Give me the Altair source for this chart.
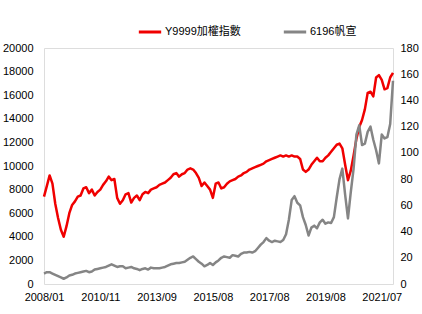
import altair as alt
import pandas as pd

# trading-day index (sampled), x tick labels every 100 index units
idx = list(range(0, 625, 5))
x_labels = ["2008/01", "2010/11", "2013/09", "2015/08", "2017/08", "2019/08", "2021/07"]

red_name = "Y9999加權指數"
gray_name = "6196帆宣"

red_vals = [
    7400, 8300, 9200, 8500, 6800, 5600, 4600, 4000, 4900, 6000,
    6700, 7000, 7400, 7500, 8100, 8200, 7700, 8000, 7500, 7800,
    8000, 8400, 8700, 9100, 8800, 8900, 7300, 6800, 7100, 7600,
    7700, 6900, 7300, 7500, 7100, 7600, 7800, 7700, 8000, 8100,
    8200, 8400, 8500, 8600, 8800, 9000, 9300, 9400, 9100, 9300,
    9400, 9700, 9800, 9700, 9400, 9000, 8300, 8600, 8300, 8000,
    7300, 8500, 8600, 8100, 8200, 8500, 8700, 8800, 8900, 9100,
    9200, 9400, 9500, 9700, 9800, 9900, 10000, 10100, 10200, 10400,
    10500, 10600, 10700, 10800, 10900, 10800, 10900, 10800, 10900, 10800,
    10800, 10600, 9700, 9500, 9700, 10100, 10400, 10700, 10400, 10400,
    10700, 10900, 11200, 11500, 11800, 11900, 11500, 10100, 8800, 9600,
    10900, 12300, 13300, 13900, 14800, 16200, 16300, 15900, 17500, 17700,
    17300, 16500, 16600, 17500, 17900,
]

gray_vals = [
    8, 9, 9, 8, 7, 6, 5, 4, 5, 6.5,
    7, 8, 8.5, 9, 9.5, 10, 9, 9.5, 11, 11.5,
    12, 12.5, 13, 14, 15, 14, 13, 13.5, 13.5, 12,
    12.5, 13, 12, 11.5, 10.5, 11.5, 12, 11, 12.5, 12,
    12, 12, 12.5, 13, 14, 15, 15.5, 16, 16, 16.5,
    17, 18.5, 20, 21, 19, 17, 15.5, 13.5, 14.5, 16,
    14.5, 16.5, 18, 20, 21, 20.5, 20, 22, 21.5, 21,
    23, 24, 24, 24.5, 24, 25, 27.5, 30, 32, 35,
    33, 32, 33, 32.5, 32, 33.5, 38, 49, 64, 67,
    62, 60, 51, 45, 37, 43, 44.5, 42.5, 47, 49,
    46, 47, 46.5, 51, 66, 80, 88, 68, 50, 70,
    88, 114, 121, 106, 107, 116, 120, 110, 102, 92,
    114, 111, 112, 122, 155,
]

df = pd.DataFrame({"i": idx, "red": red_vals, "gray": gray_vals})

FONT = "Liberation Sans, Arial, Noto Sans CJK TC"
label_expr = "[" + ",".join("'" + s + "'" for s in x_labels) + "][round(datum.value/100)]"

x_enc = alt.X(
    "i:Q",
    scale=alt.Scale(domain=[0, 620], nice=False, zero=False),
    axis=alt.Axis(
        values=[0, 100, 200, 300, 400, 500, 600],
        labelExpr=label_expr, labelOverlap=False, labelBound=False, labelFlush=False,
        title=None, grid=False, ticks=False, domain=False,
        labelPadding=7, labelFontSize=11, labelFont=FONT, labelColor="#000000",
    ),
)

color_scale = alt.Scale(domain=[red_name, gray_name], range=["#f00000", "#858585"])
legend = alt.Legend(
    title=None, orient="none", direction="horizontal",
    legendX=93, legendY=-29,
    symbolType="stroke", symbolSize=500, symbolStrokeWidth=3,
    labelFontSize=11, labelFont=FONT, labelColor="#000000",
    columnPadding=36, labelOffset=2,
)

y_common = dict(title=None, grid=False, ticks=False, domain=False,
                labelFontSize=11, labelFont=FONT, labelColor="#000000",
                labelOverlap=False, labelBound=False, labelFlush=False, format="d")

red = alt.Chart(df).mark_line(strokeWidth=2.5, strokeJoin="round").encode(
    x=x_enc,
    y=alt.Y(
        "red:Q",
        scale=alt.Scale(domain=[0, 20000], nice=False),
        axis=alt.Axis(values=list(range(0, 20001, 2000)), labelPadding=11,
                      orient="left", **y_common),
    ),
    color=alt.Color("s:N", scale=color_scale, legend=legend),
).transform_calculate(s=f"'{red_name}'")

gray = alt.Chart(df).mark_line(strokeWidth=2.5, strokeJoin="round").encode(
    x=x_enc,
    y=alt.Y(
        "gray:Q",
        scale=alt.Scale(domain=[0, 180], nice=False),
        axis=alt.Axis(values=list(range(0, 181, 20)), labelPadding=7,
                      orient="right", **y_common),
    ),
    color=alt.Color("s:N", scale=color_scale, legend=legend),
).transform_calculate(s=f"'{gray_name}'")

chart = (
    alt.layer(red, gray)
    .resolve_scale(y="independent")
    .properties(
        width=349, height=236,
        autosize=alt.AutoSizeParams(type="none"),
        padding={"left": 44, "top": 48, "right": 29, "bottom": 30},
    )
    .configure_view(stroke="#a0a0a0", strokeWidth=1.5)
    .configure(background="#ffffff")
)

chart.save("out.html", embed_options={"renderer": "svg", "actions": False})
